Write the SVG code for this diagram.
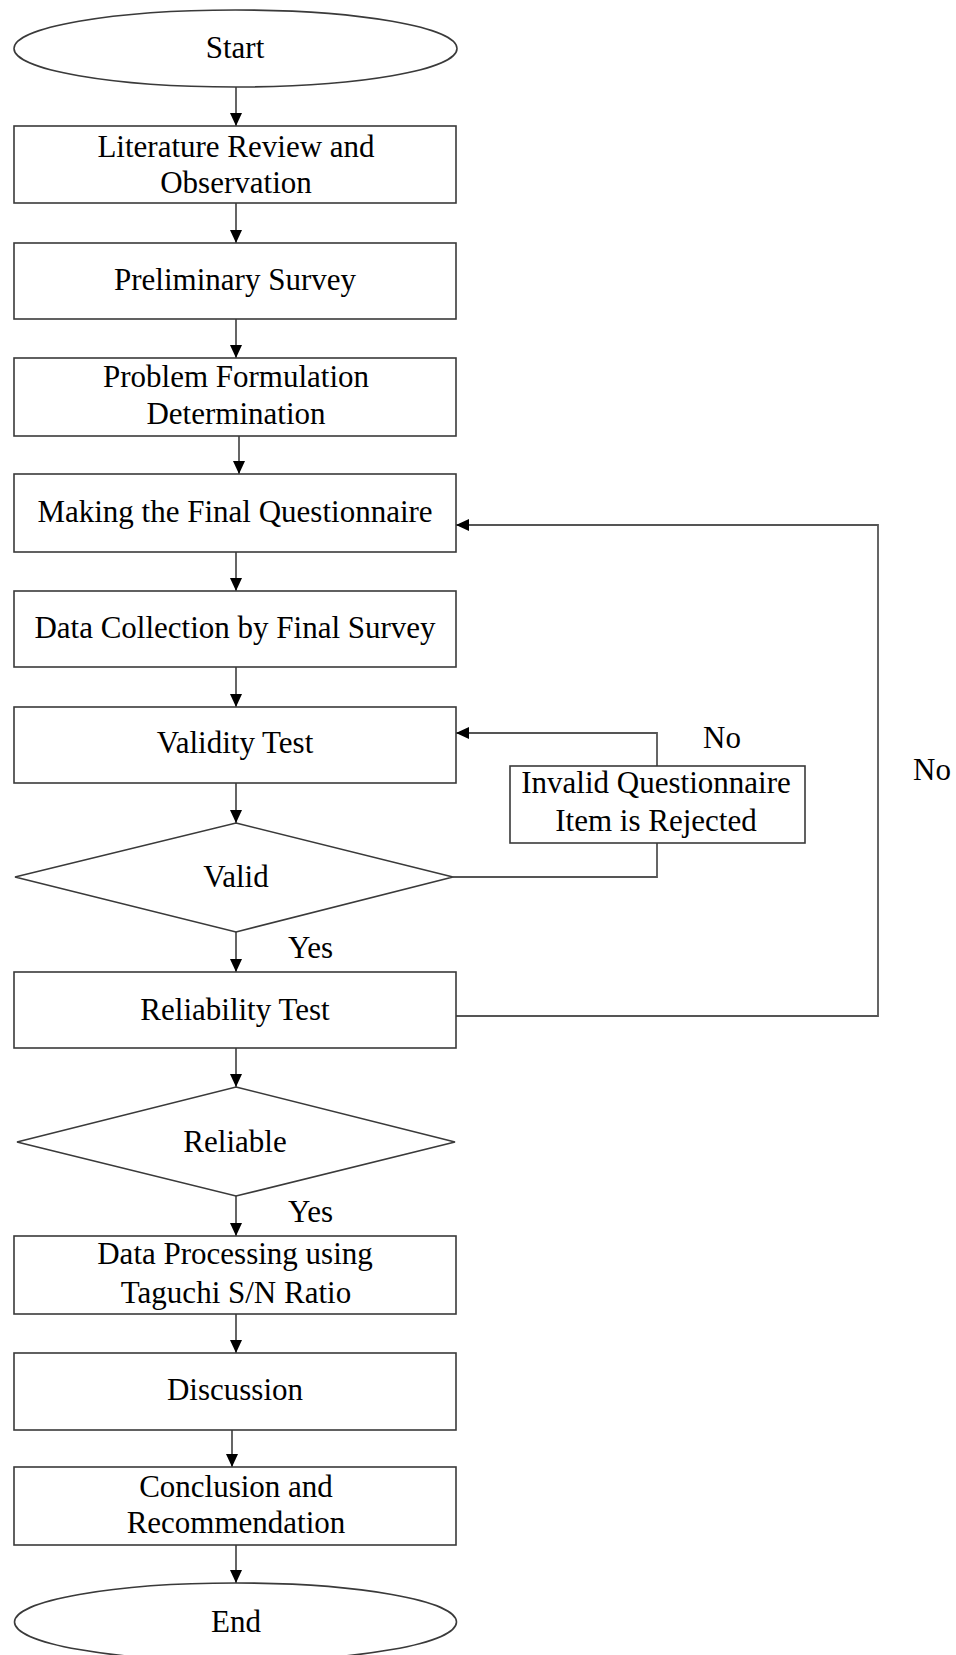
<svg xmlns="http://www.w3.org/2000/svg" width="956" height="1655" viewBox="0 0 956 1655">
<style>
.n{fill:#fff;stroke:#3a3a3a;stroke-width:1.6}
.t{font-family:"Liberation Serif","Times New Roman",serif;font-size:31px;fill:#000;text-anchor:middle}
.l{font-family:"Liberation Serif","Times New Roman",serif;font-size:31px;fill:#000}
.c{fill:none;stroke:#555;stroke-width:1.8}
</style>
<defs>
<marker id="ah" markerUnits="userSpaceOnUse" markerWidth="13" markerHeight="12" refX="13" refY="6" orient="auto">
<path d="M0,0 L13,6 L0,12 z" fill="#000"/>
</marker>
</defs>
<rect width="956" height="1655" fill="#fff"/>
<g id="connectors">
<line class="c" x1="236" y1="87" x2="236" y2="126" marker-end="url(#ah)"/>
<line class="c" x1="236" y1="203" x2="236" y2="243" marker-end="url(#ah)"/>
<line class="c" x1="236" y1="319" x2="236" y2="358" marker-end="url(#ah)"/>
<line class="c" x1="239" y1="436" x2="239" y2="474" marker-end="url(#ah)"/>
<line class="c" x1="236" y1="552" x2="236" y2="591" marker-end="url(#ah)"/>
<line class="c" x1="236" y1="667" x2="236" y2="707" marker-end="url(#ah)"/>
<line class="c" x1="236" y1="783" x2="236" y2="823" marker-end="url(#ah)"/>
<line class="c" x1="236" y1="932" x2="236" y2="972" marker-end="url(#ah)"/>
<line class="c" x1="236" y1="1048" x2="236" y2="1087" marker-end="url(#ah)"/>
<line class="c" x1="236" y1="1196" x2="236" y2="1236" marker-end="url(#ah)"/>
<line class="c" x1="236" y1="1314" x2="236" y2="1353" marker-end="url(#ah)"/>
<line class="c" x1="232" y1="1430" x2="232" y2="1467" marker-end="url(#ah)"/>
<line class="c" x1="236" y1="1545" x2="236" y2="1583" marker-end="url(#ah)"/>
<polyline class="c" points="453,877 657,877 657,843"/>
<polyline class="c" points="657,766 657,733 456,733" marker-end="url(#ah)"/>
<polyline class="c" points="456,1016 878,1016 878,525 456,525" marker-end="url(#ah)"/>
<text class="l" x="288" y="958">Yes</text>
<text class="l" x="288" y="1222">Yes</text>
<text class="l" x="703" y="748">No</text>
<text class="l" x="913" y="780">No</text>
</g>
<g id="start"><ellipse class="n" cx="235.5" cy="48.5" rx="221.5" ry="38.5"/><text class="t" x="235" y="58">Start</text></g>
<g id="literature"><rect class="n" x="14" y="126" width="442" height="77"/><text class="t" x="236" y="157">Literature Review and</text><text class="t" x="236" y="193">Observation</text></g>
<g id="preliminary"><rect class="n" x="14" y="243" width="442" height="76"/><text class="t" x="235" y="290">Preliminary Survey</text></g>
<g id="problem"><rect class="n" x="14" y="358" width="442" height="78"/><text class="t" x="236" y="387">Problem Formulation</text><text class="t" x="236" y="424">Determination</text></g>
<g id="making"><rect class="n" x="14" y="474" width="442" height="78"/><text class="t" x="235" y="522">Making the  Final Questionnaire</text></g>
<g id="datacollection"><rect class="n" x="14" y="591" width="442" height="76"/><text class="t" x="235" y="638">Data Collection by Final Survey</text></g>
<g id="validity"><rect class="n" x="14" y="707" width="442" height="76"/><text class="t" x="235" y="753">Validity Test</text></g>
<g id="invalid"><rect class="n" x="510" y="766" width="295" height="77"/><text class="t" x="656" y="793">Invalid Questionnaire</text><text class="t" x="656" y="831">Item is Rejected</text></g>
<g id="valid"><polygon class="n" points="236,823 453,877 236,932 15,877"/><text class="t" x="236" y="887">Valid</text></g>
<g id="reliability"><rect class="n" x="14" y="972" width="442" height="76"/><text class="t" x="235" y="1020">Reliability Test</text></g>
<g id="reliable"><polygon class="n" points="236,1087 455,1142 236,1196 17,1142"/><text class="t" x="235" y="1152">Reliable</text></g>
<g id="processing"><rect class="n" x="14" y="1236" width="442" height="78"/><text class="t" x="235" y="1264">Data Processing using</text><text class="t" x="236" y="1303">Taguchi S/N Ratio</text></g>
<g id="discussion"><rect class="n" x="14" y="1353" width="442" height="77"/><text class="t" x="235" y="1400">Discussion</text></g>
<g id="conclusion"><rect class="n" x="14" y="1467" width="442" height="78"/><text class="t" x="236" y="1497">Conclusion and</text><text class="t" x="236" y="1533">Recommendation</text></g>
<g id="end"><ellipse class="n" cx="235.5" cy="1622" rx="221" ry="39"/><text class="t" x="236" y="1632">End</text></g>
</svg>
